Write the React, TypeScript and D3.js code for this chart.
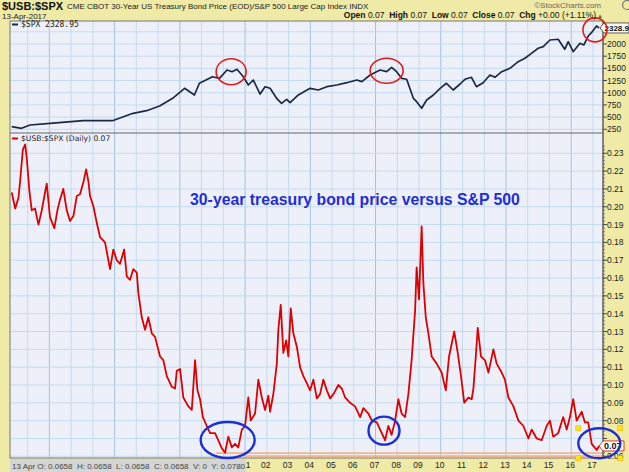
import React from 'react';
import * as d3 from 'd3';

// $SPX (decimal year, index level)
const spxSeries: [number, number][] = [
  [1990.27, 305], [1990.72, 270], [1991.11, 338], [1992.03, 373], [1993.55, 426],
  [1994.9, 426], [1995.85, 578], [1996.47, 632], [1997.07, 728], [1997.67, 886],
  [1998.22, 1091], [1998.67, 954], [1998.9, 1194], [1999.5, 1329], [1999.82, 1296],
  [2000.17, 1467], [2000.4, 1432], [2000.63, 1481], [2000.92, 1329], [2001.15, 1159],
  [2001.38, 1261], [2001.69, 974], [2001.92, 1124], [2002.15, 1091], [2002.45, 886],
  [2002.68, 783], [2002.91, 865], [2003.07, 796], [2003.45, 954], [2003.99, 1091],
  [2004.37, 1056], [2004.76, 1124], [2005.22, 1159], [2005.68, 1206], [2006.14, 1261],
  [2006.37, 1227], [2006.75, 1364], [2007.21, 1467], [2007.51, 1432], [2007.74, 1522],
  [2007.97, 1432], [2008.2, 1296], [2008.43, 1276], [2008.74, 886], [2008.89, 816],
  [2009.12, 681], [2009.35, 851], [2009.66, 954], [2009.97, 1091], [2010.26, 1194],
  [2010.57, 1056], [2010.89, 1179], [2011.11, 1276], [2011.41, 1317], [2011.64, 1124],
  [2011.95, 1206], [2012.26, 1364], [2012.49, 1317], [2012.8, 1432], [2013.18, 1501],
  [2013.56, 1637], [2013.87, 1707], [2014.17, 1809], [2014.48, 1912], [2014.71, 1945],
  [2015.02, 2082], [2015.4, 2097], [2015.7, 1891], [2015.86, 2047], [2016.09, 1842],
  [2016.4, 2014], [2016.58, 1980], [2016.78, 2164], [2016.93, 2232], [2017.16, 2369],
  [2017.28, 2329],
];

// $USB:$SPX ratio
const ratioSeries: [number, number][] = [
  [1990.27, 0.208], [1990.43, 0.199], [1990.58, 0.205], [1990.66, 0.215], [1990.78, 0.232],
  [1990.89, 0.235], [1990.97, 0.226], [1991.08, 0.209], [1991.19, 0.198], [1991.34, 0.199],
  [1991.5, 0.19], [1991.65, 0.198], [1991.8, 0.208], [1991.88, 0.213], [1992.03, 0.194],
  [1992.23, 0.188], [1992.37, 0.198], [1992.49, 0.204], [1992.64, 0.21], [1992.8, 0.198],
  [1992.95, 0.192], [1993.11, 0.195], [1993.26, 0.206], [1993.41, 0.207], [1993.57, 0.214],
  [1993.69, 0.221], [1993.8, 0.214], [1993.87, 0.206], [1994.03, 0.2], [1994.18, 0.191],
  [1994.33, 0.183], [1994.56, 0.18], [1994.79, 0.165], [1994.94, 0.176], [1995.1, 0.17],
  [1995.25, 0.168], [1995.44, 0.176], [1995.56, 0.161], [1995.71, 0.159], [1995.86, 0.165],
  [1996.02, 0.163], [1996.09, 0.152], [1996.25, 0.138], [1996.4, 0.131], [1996.55, 0.138],
  [1996.71, 0.129], [1996.86, 0.127], [1997.09, 0.116], [1997.24, 0.114], [1997.4, 0.105],
  [1997.63, 0.099], [1997.78, 0.098], [1997.86, 0.108], [1998.01, 0.109], [1998.16, 0.093],
  [1998.39, 0.088], [1998.55, 0.086], [1998.7, 0.114], [1998.81, 0.097], [1998.93, 0.092],
  [1999.06, 0.082], [1999.24, 0.077], [1999.39, 0.073], [1999.62, 0.073], [1999.77, 0.069],
  [1999.93, 0.0645], [2000.08, 0.062], [2000.23, 0.071], [2000.39, 0.065], [2000.54, 0.067],
  [2000.69, 0.065], [2000.85, 0.075], [2001.0, 0.077], [2001.15, 0.093], [2001.26, 0.08],
  [2001.46, 0.084], [2001.61, 0.103], [2001.77, 0.093], [2001.92, 0.086], [2002.07, 0.094],
  [2002.15, 0.085], [2002.3, 0.095], [2002.46, 0.112], [2002.53, 0.131], [2002.64, 0.145],
  [2002.76, 0.118], [2002.89, 0.125], [2002.99, 0.116], [2003.1, 0.143], [2003.22, 0.129],
  [2003.38, 0.1215], [2003.53, 0.11], [2003.68, 0.105], [2003.84, 0.101], [2003.99, 0.097],
  [2004.14, 0.103], [2004.3, 0.0925], [2004.45, 0.095], [2004.6, 0.103], [2004.76, 0.097],
  [2004.91, 0.0925], [2005.07, 0.095], [2005.29, 0.1], [2005.45, 0.098], [2005.6, 0.093],
  [2005.83, 0.09], [2006.06, 0.088], [2006.29, 0.082], [2006.44, 0.087], [2006.67, 0.084],
  [2006.83, 0.08], [2007.06, 0.079], [2007.21, 0.075], [2007.44, 0.069], [2007.59, 0.077],
  [2007.74, 0.072], [2007.9, 0.08], [2008.05, 0.092], [2008.2, 0.084], [2008.36, 0.082],
  [2008.51, 0.095], [2008.66, 0.114], [2008.82, 0.142], [2008.89, 0.166], [2009.0, 0.148],
  [2009.12, 0.189], [2009.2, 0.157], [2009.31, 0.138], [2009.43, 0.129], [2009.58, 0.116],
  [2009.81, 0.112], [2010.04, 0.107], [2010.23, 0.097], [2010.38, 0.116], [2010.62, 0.13],
  [2010.78, 0.118], [2010.93, 0.105], [2011.08, 0.09], [2011.27, 0.093], [2011.42, 0.092],
  [2011.5, 0.098], [2011.61, 0.116], [2011.7, 0.132], [2011.85, 0.116], [2012.03, 0.114],
  [2012.19, 0.107], [2012.42, 0.12], [2012.57, 0.112], [2012.8, 0.107], [2012.95, 0.103],
  [2013.11, 0.093], [2013.34, 0.088], [2013.57, 0.08], [2013.8, 0.077], [2014.03, 0.07],
  [2014.18, 0.075], [2014.41, 0.07], [2014.64, 0.069], [2014.87, 0.077], [2015.02, 0.08],
  [2015.17, 0.071], [2015.4, 0.073], [2015.63, 0.082], [2015.79, 0.075], [2015.94, 0.082],
  [2016.09, 0.092], [2016.25, 0.08], [2016.48, 0.085], [2016.63, 0.079], [2016.78, 0.079],
  [2016.94, 0.067], [2017.17, 0.0635], [2017.28, 0.0658],
];

const spxTicks = [250, 500, 750, 1000, 1250, 1500, 1750, 2000, 2250];
const ratioTicks = [0.06, 0.07, 0.08, 0.09, 0.1, 0.11, 0.12, 0.13, 0.14, 0.15, 0.16, 0.17, 0.18, 0.19, 0.2, 0.21, 0.22, 0.23];
// tick labels hidden behind the last-value tags are left out
const spxLabels = [250, 500, 750, 1000, 1250, 1500, 1750, 2000];
const ratioLabels = [0.06, 0.08, 0.09, 0.1, 0.11, 0.12, 0.13, 0.14, 0.15, 0.16, 0.17, 0.18, 0.19, 0.2, 0.21, 0.22, 0.23];
const yearTicks = [1991, 1992, 1993, 1994, 1995, 1996, 1997, 1998, 1999, 2000, 2001, 2002, 2003, 2004,
  2005, 2006, 2007, 2008, 2009, 2010, 2011, 2012, 2013, 2014, 2015, 2016, 2017];
// the labels before 2001 sit under the info box, so only these show
const yearLabels = [2001, 2002, 2003, 2004, 2005, 2006, 2007, 2008, 2009, 2010, 2011, 2012, 2013,
  2014, 2015, 2016, 2017];

// hand-drawn marks on the chart, in data coordinates
const redCircles = [
  { t: 2000.36, v: 1432, rx: 15, ry: 13 },
  { t: 2007.51, v: 1452, rx: 16.5, ry: 12.5 },
  { t: 2017.09, v: 2290, rx: 12, ry: 12 },
];
const blueEllipses = [
  { t: 2000.2, v: 0.0691, rx: 27, ry: 18 },
  { t: 2007.39, v: 0.0744, rx: 15.5, ry: 14 },
  { t: 2017.29, v: 0.0673, rx: 21, ry: 15 },
];
const orangeLines = [
  { from: 1999.67, v: 0.0618 },
  { from: 2001.0, v: 0.0601 },
];

const W = 629;
const H = 472;
const left = 10;
const right = 603;
const top = 21;
const split = 133;
const bottom = 458;

const font = 'Liberation Sans, Arial, sans-serif';

export default function App() {
  const x = d3.scaleLinear().domain([1990.19, 2017.46]).range([left, right]);
  const ySpx = d3.scaleLinear().domain([250, 2000]).range([129.3, 44]);
  const yRatio = d3.scaleLinear().domain([0.1, 0.23]).range([385, 153.3]);

  const spxLine = d3.line<[number, number]>().x((d) => x(d[0])).y((d) => ySpx(d[1]));
  const ratioLine = d3.line<[number, number]>().x((d) => x(d[0])).y((d) => yRatio(d[1]));

  const spxLast = spxSeries[spxSeries.length - 1];
  const ratioLast = ratioSeries[ratioSeries.length - 1];
  const minorRatio = d3.range(0.06, 0.235, 0.002);
  const sel = blueEllipses[2];
  const selX = x(sel.t);
  const selY = yRatio(sel.v);
  const sy = ySpx(spxLast[1]);
  const ry = yRatio(ratioLast[1]);

  return (
    <svg width={W} height={H} style={{ position: 'absolute', left: 0, top: 0 }} fontFamily={font}>
      <defs>
        <clipPath id="clipTop">
          <rect x={left} y={top} width={right - left} height={split - top} />
        </clipPath>
        <clipPath id="clipBot">
          <rect x={left} y={split} width={right - left} height={bottom - split} />
        </clipPath>
      </defs>
      <rect width={W} height={H} fill="#efeba6" />
      <rect x={left} y={top} width={right - left} height={bottom - top} fill="#eef0f9" />

      {/* grid */}
      {yearTicks.map((yr) => (
        <line key={yr} x1={x(yr)} x2={x(yr)} y1={top} y2={bottom}
          stroke={(yr - 1992) % 3 === 0 ? '#9fc3e2' : '#c3dbef'} strokeWidth={1} />
      ))}
      {spxTicks.map((v) => (
        <line key={v} x1={left} x2={right} y1={ySpx(v)} y2={ySpx(v)} stroke="#c3dbef" />
      ))}
      {ratioTicks.map((v) => (
        <line key={v} x1={left} x2={right} y1={yRatio(v)} y2={yRatio(v)} stroke="#c3dbef" />
      ))}

      {/* orange horizontal lines */}
      {orangeLines.map((l, i) => (
        <line key={i} x1={x(l.from)} x2={right} y1={yRatio(l.v)} y2={yRatio(l.v)}
          stroke="#f3b487" strokeWidth={1.8} />
      ))}

      <path d={spxLine(spxSeries) ?? ''} fill="none" stroke="#1b2845" strokeWidth={1.7}
        strokeLinejoin="round" clipPath="url(#clipTop)" />
      <path d={ratioLine(ratioSeries) ?? ''} fill="none" stroke="#dd0000" strokeWidth={1.8}
        strokeLinejoin="round" clipPath="url(#clipBot)" />

      {/* frames */}
      <rect x={left} y={top} width={right - left} height={bottom - top} fill="none" stroke="#777" />
      <line x1={left} x2={right} y1={split} y2={split} stroke="#666" />
      <line x1={right} x2={right} y1={top} y2={bottom} stroke="#555" />

      {/* right axes */}
      {minorRatio.map((v, i) => (
        <line key={i} x1={right} x2={right + 2} y1={yRatio(v)} y2={yRatio(v)} stroke="#777" />
      ))}
      {ratioTicks.map((v) => (
        <line key={v} x1={right} x2={right + 4} y1={yRatio(v)} y2={yRatio(v)} stroke="#444" />
      ))}
      {ratioLabels.map((v) => (
        <text key={v} x={right + 4} y={yRatio(v) + 3} fontSize={8.5} fill="#222">{v.toFixed(2)}</text>
      ))}
      {spxTicks.map((v) => (
        <line key={v} x1={right} x2={right + 4} y1={ySpx(v)} y2={ySpx(v)} stroke="#444" />
      ))}
      {spxLabels.map((v) => (
        <text key={v} x={right + 4} y={ySpx(v) + 3} fontSize={8.5} fill="#222">{v}</text>
      ))}

      {/* x axis labels */}
      {yearLabels.map((yr) => (
        <text key={yr} x={x(yr) + (yr === 2001 ? 3 : -1)} y={468} fontSize={8.5} textAnchor="middle" fill="#222">
          {yr === 2001 ? '1' : String(yr).slice(2)}
        </text>
      ))}
      <rect x={left} y={459} width={236} height={13} fill="#d5d5d5" />
      <text x={12} y={469} fontSize={8} fill="#444" xmlSpace="preserve">
        13 Apr O: 0.0658  H: 0.0658  L: 0.0658  C: 0.0658  V: 0  Y: 0.0780
      </text>

      {/* last value tags */}
      <polygon
        points={`${right - 3},${sy} ${right + 1},${sy - 5} ${W},${sy - 5} ${W},${sy + 5} ${right + 1},${sy + 5}`}
        fill="#fff" stroke="#333" strokeWidth={0.8} />
      <text x={right + 1.5} y={sy + 3} fontSize={8} fontWeight="bold" fill="#111">2328.9</text>
      <polygon
        points={`${right - 4},${ry} ${right},${ry - 5} ${right + 21},${ry - 5} ${right + 21},${ry + 5} ${right},${ry + 5}`}
        fill="#fff" stroke="#dd0000" strokeWidth={0.8} />
      <text x={right + 1} y={ry + 3.5} fontSize={9} fontWeight="bold" fill="#111">0.07</text>

      {/* legends */}
      <line x1={12} x2={18} y1={24.5} y2={24.5} stroke="#1b2845" strokeWidth={2} />
      <text x={21} y={27} fontSize={8} fill="#222" fontFamily="DejaVu Sans Mono, monospace">$SPX 2328.95</text>
      <line x1={12} x2={18} y1={138.5} y2={138.5} stroke="#dd0000" strokeWidth={2} />
      <text x={21} y={141} fontSize={7.6} fill="#222" fontFamily="DejaVu Sans, sans-serif">$USB:$SPX (Daily) 0.07</text>

      {/* annotations */}
      {redCircles.map((c, i) => (
        <ellipse key={i} cx={x(c.t)} cy={ySpx(c.v)} rx={c.rx} ry={c.ry} fill="none" stroke="#e11b1b" strokeWidth={1.6} />
      ))}
      {blueEllipses.map((c, i) => (
        <ellipse key={i} cx={x(c.t)} cy={yRatio(c.v)} rx={c.rx} ry={c.ry} fill="none" stroke="#1d2fd2" strokeWidth={2.4} />
      ))}
      {[[-1, -1], [1, -1], [-1, 1], [1, 1]].map(([dx, dy], i) => (
        <rect key={i} x={selX + dx * sel.rx - 2.5} y={selY + dy * sel.ry - 2.5} width={5} height={5}
          fill="#ffe31a" stroke="#e0b000" strokeWidth={0.5} />
      ))}
      <text x={x(1998.47)} y={yRatio(0.201)} fontSize={15.8} fontWeight="bold" fill="#1f2ed8">
        30-year treasury bond price versus S&amp;P 500
      </text>

      {/* header */}
      <text x={2} y={9.5} fontSize={11} fontWeight="bold" fill="#111">$USB:$SPX</text>
      <text x={67} y={9} fontSize={8} fill="#222">
        CME CBOT 30-Year US Treasury Bond Price (EOD)/S&amp;P 500 Large Cap Index  INDX
      </text>
      <text x={2} y={18.5} fontSize={8} fill="#222">13-Apr-2017</text>
      <text x={601} y={7.5} fontSize={8} fill="#666" textAnchor="end">©StockCharts.com</text>
      <text x={596} y={18} fontSize={8.5} fill="#111" textAnchor="end" xmlSpace="preserve">
        <tspan fontWeight="bold">Open</tspan> 0.07  <tspan fontWeight="bold">High</tspan> 0.07  <tspan fontWeight="bold">Low</tspan> 0.07  <tspan fontWeight="bold">Close</tspan> 0.07  <tspan fontWeight="bold">Chg</tspan> +0.00 (+1.11%)
      </text>
      <text x={597} y={17.5} fontSize={6} fill="#2a8a2a">▲</text>
      <circle cx={627} cy={5} r={4.5} fill="none" stroke="#777" strokeWidth={1.2} />
    </svg>
  );
}
